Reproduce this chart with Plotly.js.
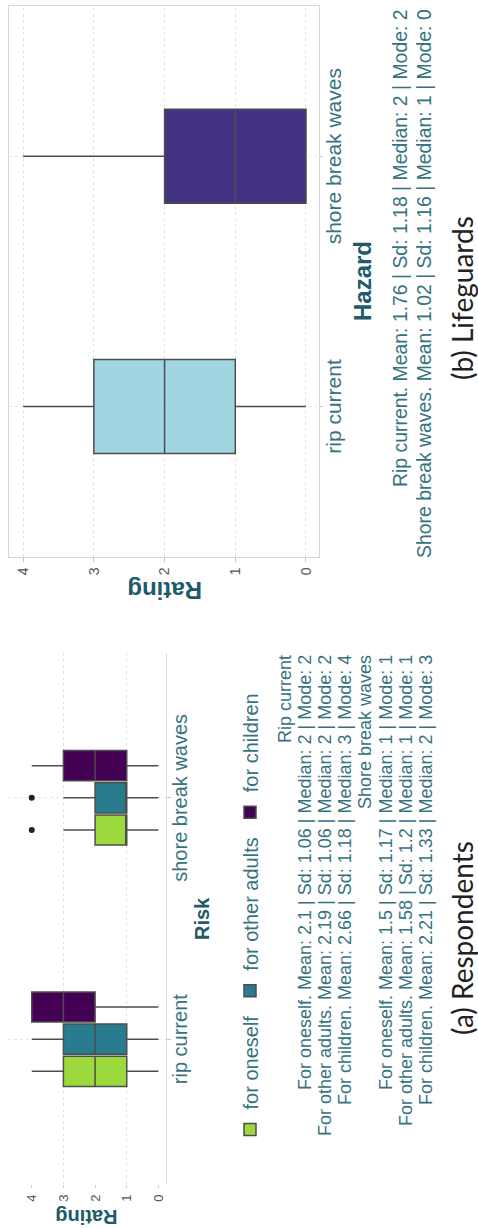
<!DOCTYPE html>
<html><head><meta charset="utf-8">
<script src="https://cdn.plot.ly/plotly-3.0.1.min.js"></script>
<style>
html,body{margin:0;padding:0;background:#fff;overflow:hidden;width:478px;height:1229px;}
#wrap{position:absolute;left:0;top:0;width:1229px;height:478px;transform-origin:0 0;transform:translateY(1229px) rotate(-90deg);}
</style></head><body>
<div id="wrap"></div>
<script>
// ---------- data ----------
const categories = ['rip current', 'shore break waves'];
const ratingTicks = [0, 1, 2, 3, 4];

// (a) Respondents
const groupNames = ['for oneself', 'for other adults', 'for children'];
const oneselfQ1 = [1, 1], oneselfMedian = [2, 1], oneselfQ3 = [3, 2], oneselfLow = [0, 0], oneselfHigh = [4, 3], oneselfOutliers = [null, 4];
const adultsQ1 = [1, 1], adultsMedian = [2, 1], adultsQ3 = [3, 2], adultsLow = [0, 0], adultsHigh = [4, 3], adultsOutliers = [null, 4];
const childrenQ1 = [2, 1], childrenMedian = [3, 2], childrenQ3 = [4, 3], childrenLow = [0, 0], childrenHigh = [4, 4], childrenOutliers = [null, null];

// (b) Lifeguards
const guardQ1 = [1, 0], guardMedian = [2, 1], guardQ3 = [3, 2], guardLow = [0, 0], guardHigh = [4, 4];

const statsRespondents = [
  'Rip current',
  'For oneself. Mean: 2.1 | Sd: 1.06 | Median: 2 | Mode: 2',
  'For other adults. Mean: 2.19 | Sd: 1.06 | Median: 2 | Mode: 2',
  'For children. Mean: 2.66 | Sd: 1.18 | Median: 3 | Mode: 4',
  'Shore break waves',
  'For oneself. Mean: 1.5 | Sd: 1.17 | Median: 1 | Mode: 1',
  'For other adults. Mean: 1.58 | Sd: 1.2 | Median: 1 | Mode: 1',
  'For children. Mean: 2.21 | Sd: 1.33 | Median: 2 | Mode: 3'
];
const statsLifeguards = [
  'Rip current. Mean: 1.76 | Sd: 1.18 | Median: 2 | Mode: 2',
  'Shore break waves. Mean: 1.02 | Sd: 1.16 | Median: 1 | Mode: 0'
];
const captionA = '(a) Respondents';
const captionB = '(b) Lifeguards';
const titleRating = 'Rating', titleRisk = 'Risk', titleHazard = 'Hazard';

// ---------- style ----------
const W = 1229, H = 478;
const px = X => X / W;
const py = Y => 1 - Y / H;
const FONT = 'Liberation Sans, Arial, sans-serif';
const TEAL_T = '#215a69';
const TEAL = '#36737f';
const LINE = '#4d4d4d';
const respColors = ['#9bd93c', '#287c8e', '#440154'];
const guardColors = ['#a0d6e1', '#433283'];

const respData = [
  [oneselfQ1, oneselfMedian, oneselfQ3, oneselfLow, oneselfHigh, oneselfOutliers],
  [adultsQ1, adultsMedian, adultsQ3, adultsLow, adultsHigh, adultsOutliers],
  [childrenQ1, childrenMedian, childrenQ3, childrenLow, childrenHigh, childrenOutliers]
];

const traces = [];
respData.forEach((d, i) => {
  traces.push({
    type: 'box', orientation: 'v', name: groupNames[i],
    x: categories, q1: d[0], median: d[1], q3: d[2], lowerfence: d[3], upperfence: d[4],
    boxpoints: false,
    fillcolor: respColors[i], line: {color: LINE, width: 1.5}, whiskerwidth: 0,
    offsetgroup: 'a' + i, xaxis: 'x', yaxis: 'y', hoverinfo: 'skip'
  });
});
respData.forEach((d, i) => {
  traces.push({
    type: 'scatter', mode: 'markers', name: groupNames[i] + ' outliers', showlegend: false,
    x: categories, y: d[5], marker: {color: '#222', size: 6},
    offsetgroup: 'a' + i, xaxis: 'x', yaxis: 'y', hoverinfo: 'skip', cliponaxis: false
  });
});
categories.forEach((c, i) => {
  traces.push({
    type: 'box', orientation: 'v', name: c, showlegend: false,
    x: [c], q1: [guardQ1[i]], median: [guardMedian[i]], q3: [guardQ3[i]],
    lowerfence: [guardLow[i]], upperfence: [guardHigh[i]],
    boxpoints: false,
    fillcolor: guardColors[i], line: {color: LINE, width: 1.5}, whiskerwidth: 0,
    offsetgroup: 'b', xaxis: 'x2', yaxis: 'y2', hoverinfo: 'skip'
  });
});

const annotations = [];
function ann(text, X, Y, opts) {
  annotations.push(Object.assign({
    text: text, x: px(X), y: py(Y), xref: 'paper', yref: 'paper',
    showarrow: false, xanchor: 'center', yanchor: 'middle'
  }, opts));
}
// axis titles
ann('<b>' + titleRating + '</b>', 13, 86.5, {textangle: -90, font: {size: 20, color: TEAL_T, family: FONT}});
ann('<b>' + titleRisk + '</b>', 310, 202.5, {font: {size: 20, color: TEAL_T, family: FONT}});
ann('<b>' + titleRating + '</b>', 638, 165, {textangle: -90, font: {size: 24, color: TEAL_T, family: FONT}});
ann('<b>' + titleHazard + '</b>', 948, 362.5, {font: {size: 24, color: TEAL_T, family: FONT}});
// stats
statsRespondents.forEach((t, i) => ann(t, 576, 285 + i * 20.1, {xanchor: 'right', font: {size: 18, color: TEAL, family: FONT}}));
statsLifeguards.forEach((t, i) => ann(t, 1222, 400 + i * 23.5, {xanchor: 'right', font: {size: 19.4, color: TEAL, family: FONT}}));
// captions
ann(captionA, 291, 462, {font: {size: 28, color: '#222', family: 'Lato, Open Sans, sans-serif'}});
ann(captionB, 931, 462, {font: {size: 28, color: '#222', family: 'Lato, Open Sans, sans-serif'}});

const layout = {
  width: W, height: H,
  margin: {l: 0, r: 0, t: 0, b: 0},
  paper_bgcolor: '#fff', plot_bgcolor: '#fff',
  font: {family: FONT, color: TEAL},
  boxmode: 'group', boxgap: 0.6, boxgroupgap: 0.0625,
  scattermode: 'group', scattergap: 0.6,
  showlegend: true,
  legend: {orientation: 'h', x: px(310.5), xanchor: 'center', y: py(250), yanchor: 'middle',
           font: {size: 20, color: TEAL, family: FONT}, bgcolor: 'rgba(0,0,0,0)'},
  xaxis: {domain: [px(45), px(576)], anchor: 'y', type: 'category', range: [-0.6, 1.6],
          showline: true, linecolor: '#d9d9d9', linewidth: 1,
          ticks: 'outside', ticklen: 4, tickcolor: '#c8c8c8', ticklabelstandoff: -8,
          tickfont: {size: 20, color: TEAL, family: FONT},
          showgrid: true, gridcolor: '#e8e8e8', griddash: 'dot', zeroline: false, fixedrange: true},
  yaxis: {domain: [py(165.7), py(8)], anchor: 'x', range: [-0.23, 4.75],
          tickmode: 'array', tickvals: ratingTicks, ticks: 'outside', ticklen: 3, tickcolor: '#cccccc',
          ticklabelstandoff: 4,
          tickfont: {size: 13, color: '#555', family: FONT},
          showgrid: false, showline: false, zeroline: false,
          minor: {tickmode: 'array', tickvals: [1, 3], showgrid: true, gridcolor: '#e3e3e3', griddash: 'dot', ticks: ''},
          fixedrange: true},
  xaxis2: {domain: [px(672.3), px(1223)], anchor: 'y2', type: 'category', range: [-0.6, 1.6],
          showline: true, mirror: true, linecolor: '#d6d6d6', linewidth: 1,
          ticks: 'outside', ticklen: 3, tickcolor: '#c8c8c8', ticklabelstandoff: -7,
          tickfont: {size: 21, color: TEAL, family: FONT},
          showgrid: true, gridcolor: '#e8e8e8', griddash: 'dot', zeroline: false, fixedrange: true},
  yaxis2: {domain: [py(319), py(9)], anchor: 'x2', range: [-0.184, 4.2],
          tickmode: 'array', tickvals: ratingTicks, ticks: 'outside', ticklen: 4, tickcolor: '#c8c8c8',
          ticklabelstandoff: 3,
          tickfont: {size: 14, color: '#555', family: FONT},
          showgrid: true, gridcolor: '#e3e3e3', griddash: 'dot',
          showline: true, mirror: true, linecolor: '#d6d6d6', linewidth: 1, zeroline: false, fixedrange: true},
  annotations: annotations
};

Plotly.newPlot('wrap', traces, layout, {displayModeBar: false, staticPlot: true});
</script>
</body></html>
